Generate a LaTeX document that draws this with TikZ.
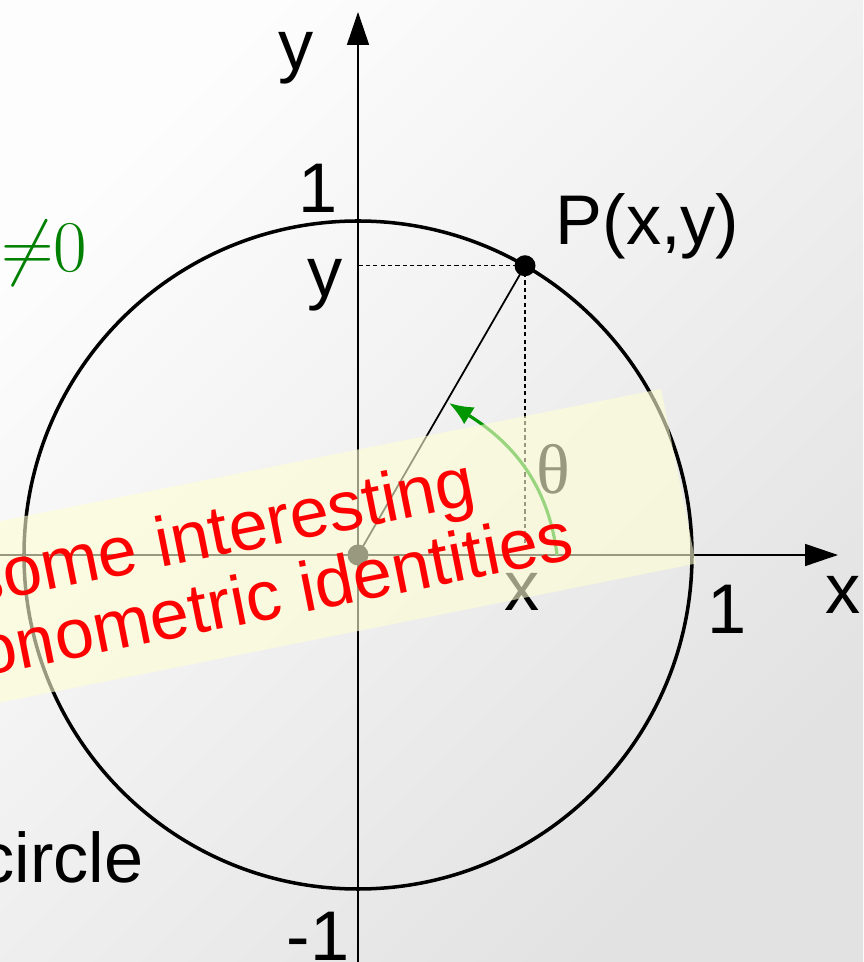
\documentclass[tikz,border=0pt]{standalone}
\usepackage{fontspec}
\setmainfont{Liberation Sans}
\newfontfamily\thetafont{Liberation Serif}
\usetikzlibrary{arrows.meta}
\definecolor{bgtop}{RGB}{253,253,253}
\definecolor{bgbot}{RGB}{226,226,226}
\definecolor{bannerfill}{RGB}{255,255,212}
\definecolor{bannerred}{RGB}{255,0,0}
\definecolor{arcgreen}{RGB}{0,150,0}
\definecolor{labgreen}{RGB}{0,128,0}
\tikzset{
  axisline/.style={line width=0.45pt, -{Triangle[length=3.3mm,width=2.2mm]}},
  circ/.style={line width=1pt},
  guide/.style={line width=0.4pt, dash pattern=on 1.2pt off 0.9pt},
  spoke/.style={line width=0.5pt},
  dotpt/.style={circle, fill=black, inner sep=0pt, minimum size=2.1mm},
  lbl/.style={inner sep=0pt, font=\fontsize{20}{23}\selectfont},
  anglearr/.style={line width=0.9pt, draw=arcgreen, -{Latex[length=2.4mm,width=2mm]}},
  banner/.style={fill=bannerfill, fill opacity=0.6},
  bannertext/.style={lbl, text=bannerred, rotate=11.3, anchor=base east}
}

\begin{document}
\begin{tikzpicture}
  \clip (-3.58,-4.07) rectangle (5.05,5.55);
  \shade[top color=bgtop, bottom color=bgbot, shading angle=45] (-3.58,-4.07) rectangle (5.05,5.55);

  \coordinate (O) at (0,0);
  \coordinate (P) at (60:3.34);
  \coordinate (xl) at (-3.7,0);
  \coordinate (xr) at (4.80,0);
  \coordinate (yb) at (0,-4.2);
  \coordinate (yt) at (0,5.43);
  \coordinate (Px) at (P |- O);
  \coordinate (Py) at (P -| O);
  \coordinate (a0) at (1.99,0);
  \coordinate (a1) at (0.91,1.52);

  % unit circle and axes
  \draw[circ] (O) circle (3.34);
  \draw[axisline] (xl) -- (xr);
  \draw[axisline] (yb) -- (yt);
  \draw[guide] (P) -- (Py);
  \draw[guide] (P) -- (Px);
  \draw[spoke] (O) -- (P);
  \node[dotpt] (Odot) at (O) {};
  \node[dotpt] (Pdot) at (P) {};
  \draw[anglearr] (a0) to[out=97, in=-32] (a1);

  % labels
  \node[lbl, anchor=base] (ytop) at (-0.62,4.85) {y};
  \node[lbl, anchor=base] (onetop) at (-0.40,3.42) {1};
  \node[lbl, anchor=base] (ymark) at (-0.33,2.58) {y};
  \node[lbl, anchor=base] (xmark) at (1.64,-0.56) {x};
  \node[lbl, anchor=base] (oneright) at (3.69,-0.79) {1};
  \node[lbl, anchor=base] (xright) at (4.85,-0.59) {x};
  \node[lbl, anchor=base] (onebot) at (-0.40,-4.05) {-1};
  \node[lbl, anchor=base west] (Plab) at (1.97,3.10) {P(x,y)};
  \node[lbl] (theta) at (1.95,0.86) {\thetafont θ};
  \node[lbl, text=labgreen, anchor=base east] (neq) at (-2.70,2.83) {${\neq}0$};
  \node[lbl, anchor=base east] (circlab) at (-2.14,-3.27) {circle};

  % banner
  \begin{scope}[shift={(3.03,1.66)}, rotate=11.3]
    \fill[banner] (-9,0) rectangle (0,-1.78);
  \end{scope}
  \node[bannertext] (line1) at (1.21,0.51) {some interesting};
  \node[bannertext] (line2) at (2.19,-0.03) {onometric identities};
\end{tikzpicture}
\end{document}
